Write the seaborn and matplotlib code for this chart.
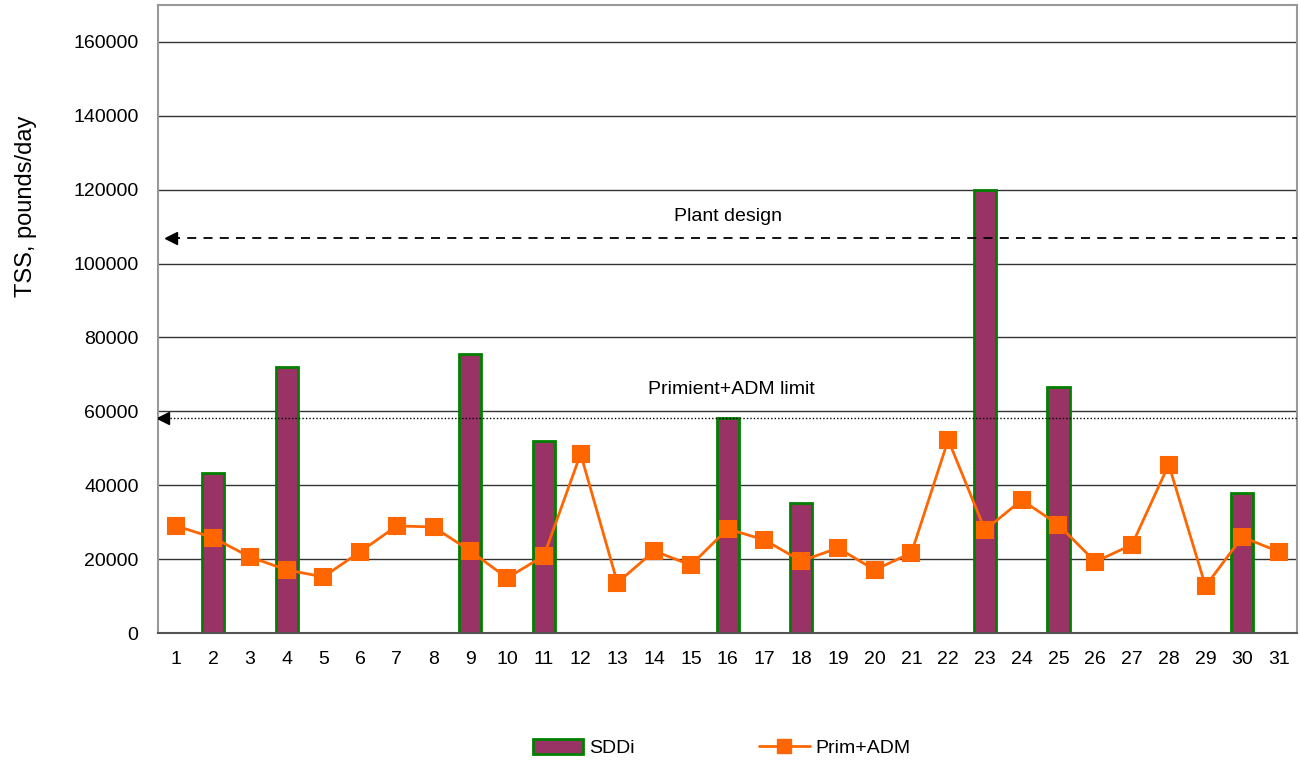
import numpy as np
import pandas as pd
import matplotlib
matplotlib.use("Agg")
import matplotlib.pyplot as plt
import matplotlib.patches as mpatches
from matplotlib.lines import Line2D
import seaborn as sns

# data
days = list(range(1, 32))
sddi_days = [2, 4, 9, 11, 16, 18, 23, 25, 30]
sddi_vals = [43400, 72100, 75400, 52100, 58300, 35300, 119900, 66700, 38000]
prim_adm = [29000, 25800, 20600, 17100, 15200, 22000, 29000, 28700, 22200, 14900,
            20900, 48500, 13600, 22200, 18400, 28200, 25200, 19500, 23000, 17100,
            21700, 52300, 27900, 36000, 29300, 19300, 23900, 45600, 12700, 26000, 22000]
plant_design = 106800
prim_limit = 58300

BAR_COLOR = '#993366'
BAR_EDGE = '#008000'
LINE_COLOR = '#FF6600'

df = pd.DataFrame({'day': days, 'prim': prim_adm})
df['sddi'] = df['day'].map(dict(zip(sddi_days, sddi_vals)))

sns.set_theme(style='white')
plt.rcParams['font.family'] = ['Liberation Sans', 'DejaVu Sans']
plt.rcParams['text.color'] = 'black'
plt.rcParams['axes.labelcolor'] = 'black'
plt.rcParams['xtick.color'] = 'black'
plt.rcParams['ytick.color'] = 'black'

fig = plt.figure(figsize=(13, 7.65), dpi=100)
ax = fig.add_axes([0.1215, 0.1725, 0.8765, 0.821])

sns.barplot(data=df, x='day', y='sddi', order=days, color=BAR_COLOR,
            saturation=1, width=0.6, edgecolor=BAR_EDGE, linewidth=2,
            errorbar=None, ax=ax, zorder=2)
sns.pointplot(data=df, x='day', y='prim', order=days, color=LINE_COLOR,
              markers='s', markersize=11, linewidth=2, errorbar=None,
              ax=ax, zorder=4)

ax.set_xlim(-0.5, len(days) - 0.5)
ax.set_ylim(0, 170000)
ax.set_yticks(np.arange(0, 160001, 20000))
ax.yaxis.grid(True, color='#333333', linewidth=1)
ax.set_axisbelow(True)
ax.tick_params(axis='y', length=0, pad=14, labelsize=14)
ax.tick_params(axis='x', length=0, pad=13, labelsize=14)
ax.set_xlabel('')
ax.set_ylabel('TSS, pounds/day', fontsize=17)
ax.yaxis.set_label_coords(-0.106, 0.68)

for side in ['left', 'top', 'right']:
    ax.spines[side].set_color('#999999')
    ax.spines[side].set_linewidth(1.5)
ax.spines['bottom'].set_color('#555555')
ax.spines['bottom'].set_linewidth(1.5)

# reference lines with arrowheads pointing at the axis
ax.plot([-0.14, len(days) - 0.5], [plant_design, plant_design], color='black',
        linestyle=(0, (5, 4)), linewidth=1.3, zorder=5)
ax.plot(-0.14, plant_design, marker='<', color='black', markersize=9, zorder=5)
ax.text(15, plant_design + 6000, 'Plant design', ha='center', va='center', fontsize=14)

ax.plot([-0.35, len(days) - 0.5], [prim_limit, prim_limit], color='black',
        linestyle=(0, (1, 1.5)), linewidth=1, zorder=5)
ax.plot(-0.35, prim_limit, marker='<', color='black', markersize=8, zorder=5)
ax.text(15.1, prim_limit + 7600, 'Primient+ADM limit', ha='center', va='center', fontsize=14)

handles = [
    mpatches.Patch(facecolor=BAR_COLOR, edgecolor=BAR_EDGE, linewidth=2, label='SDDi'),
    Line2D([0], [0], color=LINE_COLOR, linewidth=2, marker='s', markersize=10, label='Prim+ADM'),
]
fig.legend(handles=handles, loc='center', bbox_to_anchor=(0.555, 0.022), ncol=2,
           frameon=False, fontsize=14, handlelength=2.6, handleheight=0.8,
           columnspacing=6.4, handletextpad=0.3)

plt.savefig('out.png', dpi=100)
plt.close()
